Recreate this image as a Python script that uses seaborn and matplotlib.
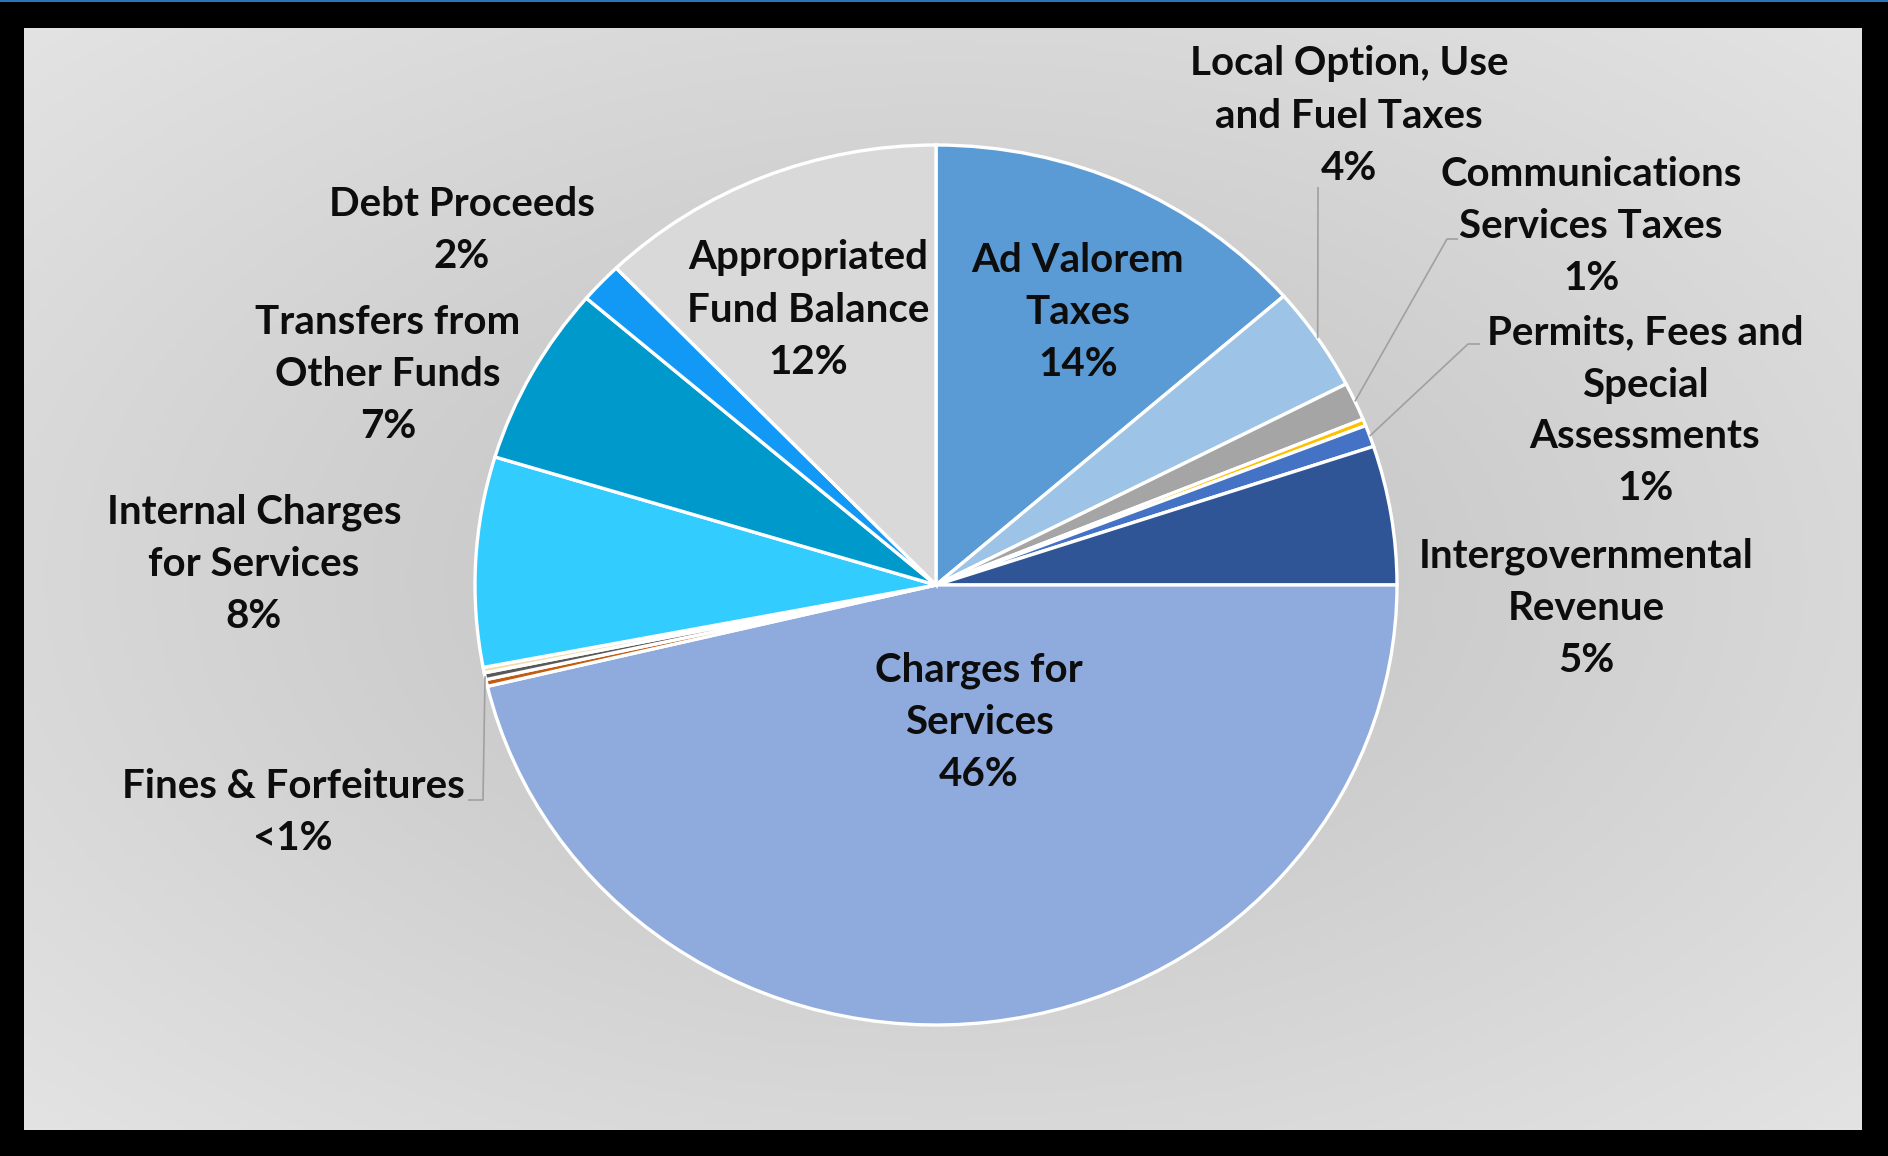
import numpy as np
import matplotlib
matplotlib.use("Agg")
import matplotlib.pyplot as plt
import seaborn as sns

# Revenue sources, clockwise from 12 o'clock (percent of total)
categories = [
    "Ad Valorem\nTaxes",
    "Local Option, Use\nand Fuel Taxes",
    "Communications\nServices Taxes",
    "",
    "Permits, Fees and\nSpecial\nAssessments",
    "Intergovernmental\nRevenue",
    "Charges for\nServices",
    "",
    "Fines & Forfeitures",
    "",
    "Internal Charges\nfor Services",
    "Transfers from\nOther Funds",
    "Debt Proceeds",
    "Appropriated\nFund Balance",
]
shares = [13.6, 3.85, 1.4, 0.25, 0.8, 5.1, 46.3, 0.25, 0.25, 0.2, 7.7, 6.6, 1.5, 12.2]
slice_colors = [
    "#5B9BD5", "#9DC3E6", "#A5A5A5", "#FFC000", "#4472C4", "#2F5597",
    "#8FAADC", "#C55A11", "#595959", "#F2DCA8", "#33CCFF", "#0099CC",
    "#1199F5", "#D9D9D9",
]

# label block centres in pixels (x, y from top)
label_pos = {
    0: (1078, 312), 1: (1349, 116), 2: (1591, 226), 4: (1645, 411),
    5: (1586, 608), 6: (979, 722), 8: (293, 812), 10: (254, 564),
    11: (388, 374), 12: (462, 231), 13: (808, 310),
}
# leader line bends in pixels
leaders = {
    1: [(1318, 187)],
    2: [(1447, 239), (1458, 239)],
    4: [(1468, 344), (1480, 344)],
    8: [(483, 800), (468, 800)],
}

W, H = 1888, 1156
CX, CY, RX, RY = 936, 585, 461, 440

sns.set_style("white")
plt.rcParams["font.family"] = ["Lato", "DejaVu Sans"]

fig = plt.figure(figsize=(W / 100, H / 100), dpi=100, facecolor="black")

# shaded panel behind the pie
x0, y0, x1, y1 = 24, 28, 1862, 1130
bg = fig.add_axes([x0 / W, 1 - y1 / H, (x1 - x0) / W, (y1 - y0) / H], zorder=0)
gx, gy = np.meshgrid(np.linspace(-1, 1, 400), np.linspace(-1, 1, 300))
rr = np.clip(np.sqrt(gx ** 2 + gy ** 2) / np.sqrt(2), 0, 1)
shade = 0.75 + (0.89 - 0.75) * rr
bg.imshow(np.dstack([shade] * 3), aspect="auto", extent=[0, 1, 0, 1])
bg.set_axis_off()

ax = fig.add_axes([0, 0, 1, 1], zorder=1)
ax.set_facecolor("none")


def px(x, y):
    return (x - CX) / RX, (CY - y) / RY


wedges, _ = ax.pie(
    shares, colors=slice_colors, startangle=90, counterclock=False,
    radius=1.0, center=(0, 0),
    wedgeprops=dict(edgecolor="white", linewidth=2.4),
)
ax.set_aspect("auto")
ax.set_xlim(-CX / RX, (W - CX) / RX)
ax.set_ylim((CY - H) / RY, CY / RY)
ax.set_axis_off()

for i, (x, y) in label_pos.items():
    pct = round(shares[i])
    pct_txt = "<1%" if pct == 0 else f"{pct}%"
    ax.text(*px(x, y), f"{categories[i]}\n{pct_txt}", ha="center", va="center",
            fontsize=29, fontweight="bold", color="#0D0D0D", linespacing=1.5,
            zorder=5)

for i, pts in leaders.items():
    w = wedges[i]
    mid = np.deg2rad((w.theta1 + w.theta2) / 2)
    xs = [np.cos(mid)] + [px(*p)[0] for p in pts]
    ys = [np.sin(mid)] + [px(*p)[1] for p in pts]
    ax.plot(xs, ys, color="#A0A0A0", lw=1.2, zorder=4, solid_capstyle="butt")

fig.add_artist(plt.Line2D([0, 1], [1 - 1 / H, 1 - 1 / H], transform=fig.transFigure,
                          color="#2E75B6", lw=1.5))

fig.savefig("out.png", dpi=100, facecolor="black")
